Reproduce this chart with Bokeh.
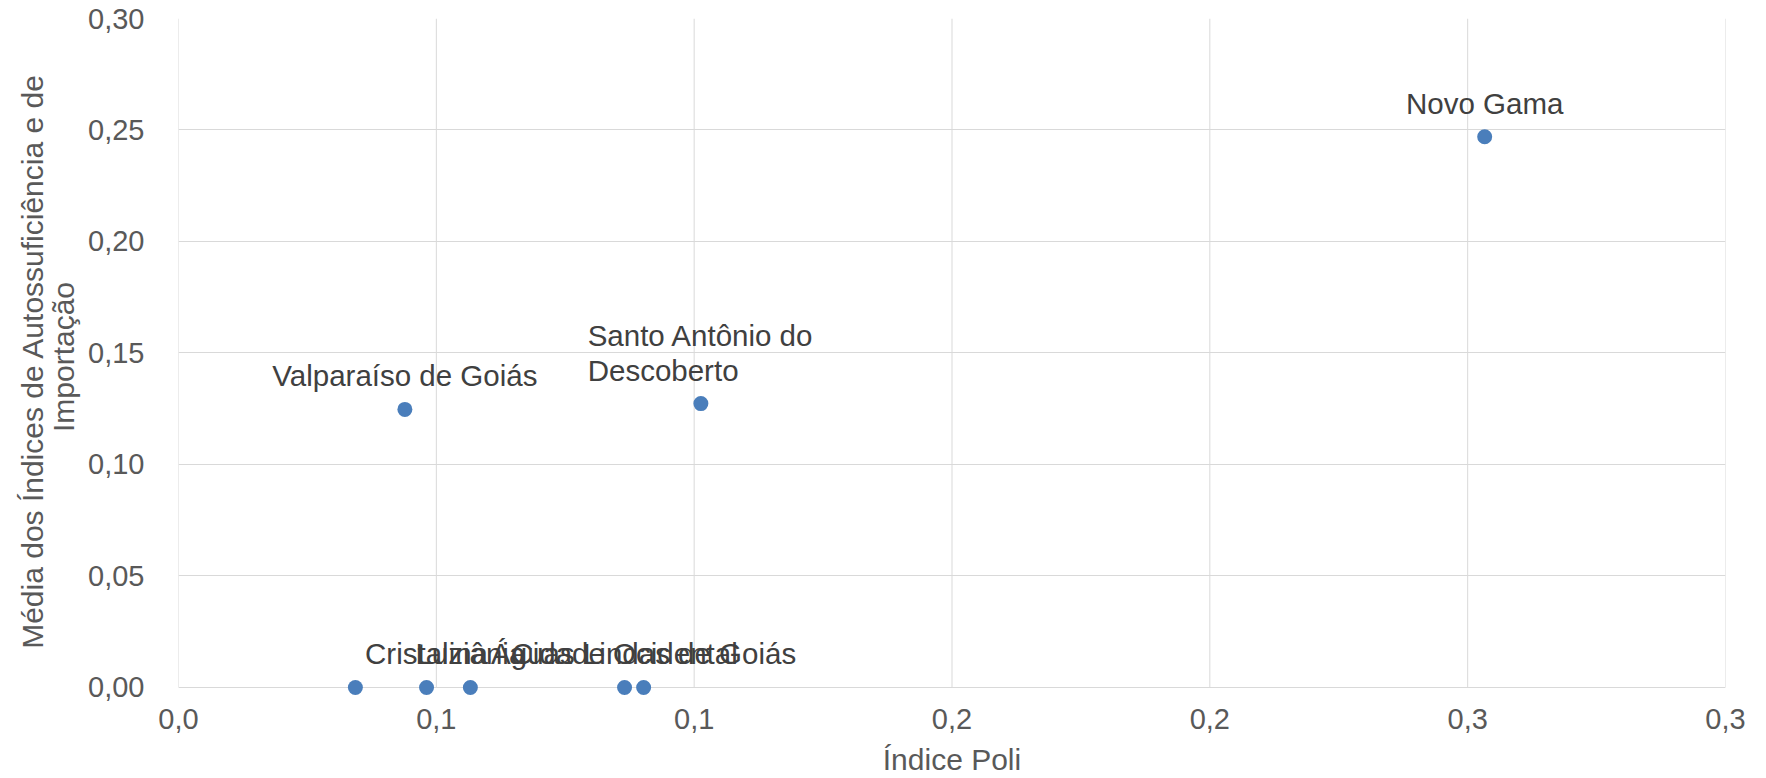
from bokeh.plotting import figure
from bokeh.models import ColumnDataSource, LabelSet, Range1d, FixedTicker
from bokeh.core.properties import value
from bokeh.embed import file_html
from bokeh.resources import INLINE

# ---- data ----
municipios = ["", "Cristalina", "Luziânia", "Cidade Ocidental", "Águas Lindas de Goiás",
              "Valparaíso de Goiás", "Santo Antônio do\nDescoberto", "Novo Gama"]
indice_poli = [0.0343, 0.0481, 0.0566, 0.0865, 0.0902, 0.0439, 0.1013, 0.2533]
media_indices = [0.0, 0.0, 0.0, 0.0, 0.0, 0.1247, 0.1273, 0.2470]

x_ticks = [0.0, 0.05, 0.10, 0.15, 0.20, 0.25, 0.30]
x_tick_labels = ["0,0", "0,1", "0,1", "0,2", "0,2", "0,3", "0,3"]
y_ticks = [0.0, 0.05, 0.10, 0.15, 0.20, 0.25, 0.30]
y_tick_labels = ["0,00", "0,05", "0,10", "0,15", "0,20", "0,25", "0,30"]

x_title = "Índice Poli"
y_title = "Média dos Índices de Autossuficiência  e de\nImportação"

FONT = "Liberation Sans"
GRID = "#d9d9d9"
TICK_COLOR = "#595959"

p = figure(width=1766, height=778, output_backend="svg", toolbar_location=None,
           x_range=Range1d(0, 0.30), y_range=Range1d(-0.0036, 0.30),
           min_border_left=178, min_border_right=41, min_border_top=18, min_border_bottom=83)
p.outline_line_color = None
p.background_fill_color = "white"

# grid
p.xgrid.visible = False
p.ygrid.ticker = FixedTicker(ticks=y_ticks)
p.ygrid.grid_line_color = GRID
p.segment(x0=x_ticks, y0=[y_ticks[0]] * len(x_ticks), x1=x_ticks, y1=[y_ticks[-1]] * len(x_ticks),
          line_color=GRID, line_width=1)

# axes
for ax in (p.xaxis[0], p.yaxis[0]):
    ax.axis_line_color = None
    ax.major_tick_line_color = None
    ax.minor_tick_line_color = None
    ax.major_label_text_font = FONT
    ax.major_label_text_font_size = "29px"
    ax.major_label_text_color = TICK_COLOR
    ax.axis_label_text_font = FONT
    ax.axis_label_text_font_size = "30px"
    ax.axis_label_text_font_style = "normal"
    ax.axis_label_text_color = TICK_COLOR

p.xaxis.ticker = FixedTicker(ticks=x_ticks)
p.xaxis.major_label_overrides = dict(zip(x_ticks, x_tick_labels))
p.xaxis.axis_label = x_title
p.xaxis.major_label_standoff = 7
p.xaxis.axis_label_standoff = 11

p.yaxis.ticker = FixedTicker(ticks=y_ticks)
p.yaxis.major_label_overrides = dict(zip(y_ticks, y_tick_labels))
p.yaxis.axis_label = y_title
p.yaxis.axis_label_text_line_height = 0.95
p.yaxis.major_label_standoff = 28
p.yaxis.axis_label_standoff = 5

src = ColumnDataSource(dict(x=indice_poli, y=media_indices, name=municipios))
p.scatter("x", "y", source=src, size=15, fill_color="#4a7ebb", line_color=None)

labels = LabelSet(x="x", y="y", text="name", source=src, text_align="center",
                  text_baseline="bottom", y_offset=17, text_line_height=1.05,
                  text_font=value(FONT), text_font_size="29.5px", text_color="#404040")
p.add_layout(labels)

open("out.html", "w").write(file_html(p, INLINE))
